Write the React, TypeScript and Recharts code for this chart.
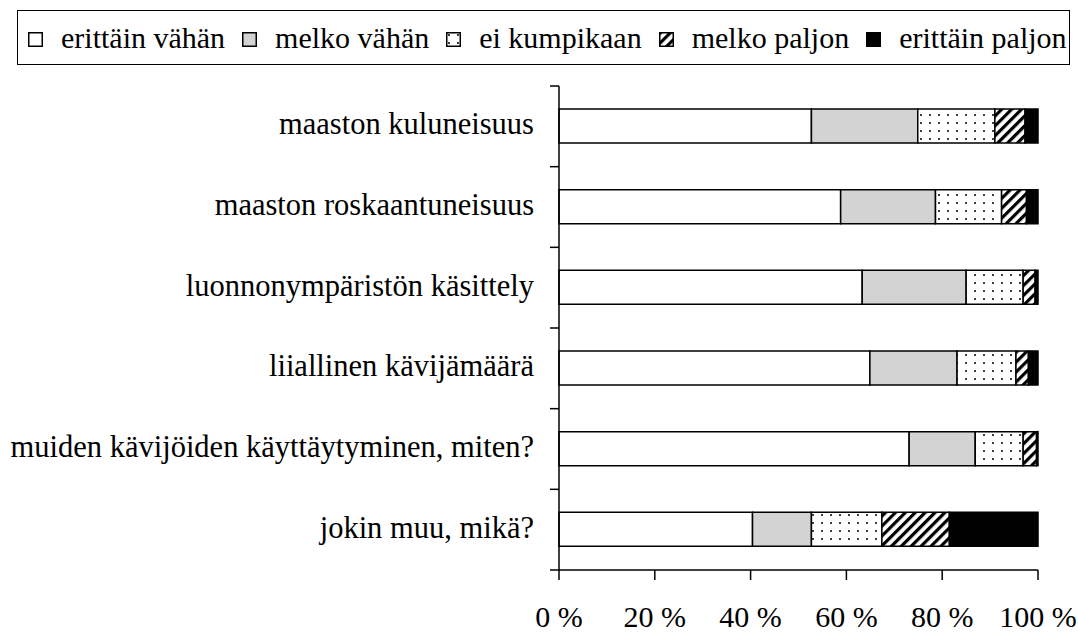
import { BarChart, Bar, XAxis, YAxis } from 'recharts'

const categories = [
  'maaston kuluneisuus',
  'maaston roskaantuneisuus',
  'luonnonympäristön käsittely',
  'liiallinen kävijämäärä',
  'muiden kävijöiden käyttäytyminen, miten?',
  'jokin muu, mikä?'
]

// percentages per category
const erittainVahan = [52.7, 58.8, 63.3, 64.9, 73.1, 40.4]
const melkoVahan = [22.2, 19.8, 21.7, 18.2, 13.8, 12.3]
const eiKumpikaan = [16.1, 13.8, 11.9, 12.3, 10.0, 14.7]
const melkoPaljon = [6.3, 5.2, 2.5, 2.6, 2.8, 14.1]
const erittainPaljon = [2.7, 2.4, 0.6, 2.0, 0.3, 18.5]

const xTicks = [0, 20, 40, 60, 80, 100]

const seriesNames = ['erittäin vähän', 'melko vähän', 'ei kumpikaan', 'melko paljon', 'erittäin paljon']

const font = "'Liberation Serif', 'Times New Roman', serif"

const data = categories.map((name, i) => ({
  name,
  ev: erittainVahan[i],
  mv: melkoVahan[i],
  ek: eiKumpikaan[i],
  mp: melkoPaljon[i],
  ep: erittainPaljon[i]
}))

const fills = ['#ffffff', '#d3d3d3', 'url(#dots)', 'url(#hatch)', '#000000']
const keys = ['ev', 'mv', 'ek', 'mp', 'ep']

const CHART_W = 1078
const CHART_H = 634
const MARGIN_TOP = 86
const X_AXIS_H = 64
const LABEL_GAP = 25
const band = (CHART_H - MARGIN_TOP - X_AXIS_H) / categories.length

// category label plus a tick mark on the band boundary (Excel style)
function CategoryTick(props: any) {
  const { x, y, payload, index } = props
  const axisX = x + LABEL_GAP
  return (
    <g>
      <line x1={axisX - 9} x2={axisX} y1={y - band / 2} y2={y - band / 2} stroke="#000" strokeWidth={1.5} />
      {index === categories.length - 1 && (
        <line x1={axisX - 9} x2={axisX} y1={y + band / 2} y2={y + band / 2} stroke="#000" strokeWidth={1.5} />
      )}
      <text x={x} y={y} dy={8} textAnchor="end" fill="#000" fontSize={30.5} fontFamily={font}>
        {payload.value}
      </text>
    </g>
  )
}

function Patterns() {
  return (
    <svg width={0} height={0} style={{ position: 'absolute' }}>
      <defs>
        <pattern id="dots" width={9} height={8} patternUnits="userSpaceOnUse">
          <rect width={9} height={8} fill="#fff" />
          <circle cx={3} cy={3} r={1} fill="#000" />
        </pattern>
        <pattern id="hatch" width={7} height={7} patternUnits="userSpaceOnUse" patternTransform="rotate(45)">
          <rect width={7} height={7} fill="#fff" />
          <rect width={3.2} height={7} fill="#000" />
        </pattern>
      </defs>
    </svg>
  )
}

function LegendBox() {
  return (
    <div
      style={{
        position: 'absolute',
        left: 17,
        top: 10,
        width: 1053,
        height: 55,
        boxSizing: 'border-box',
        border: '1.5px solid #000',
        display: 'flex',
        alignItems: 'center',
        paddingLeft: 10,
        fontFamily: font,
        fontSize: 30,
        whiteSpace: 'nowrap'
      }}
    >
      {seriesNames.map((name, i) => (
        <div key={name} style={{ display: 'flex', alignItems: 'center', marginRight: 17 }}>
          <svg width={15} height={15} style={{ marginRight: 18, marginTop: 4 }}>
            <rect x={0.75} y={0.75} width={13.5} height={13.5} fill={fills[i]} stroke="#000" strokeWidth={1.5} />
          </svg>
          <span>{name}</span>
        </div>
      ))}
    </div>
  )
}

export default function App() {
  return (
    <div style={{ position: 'absolute', left: 0, top: 0, width: CHART_W, height: CHART_H, background: '#fff', fontFamily: font }}>
      <Patterns />
      <LegendBox />
      <BarChart
        width={CHART_W}
        height={CHART_H}
        data={data}
        layout="vertical"
        margin={{ top: MARGIN_TOP, right: 40, bottom: 0, left: 0 }}
        barSize={34}
      >
        <XAxis
          type="number"
          domain={[0, 100]}
          ticks={xTicks}
          tickFormatter={(v) => `${v} %`}
          height={X_AXIS_H}
          tickSize={10}
          tickMargin={26}
          stroke="#000"
          strokeWidth={1.5}
          tick={{ fill: '#000', fontSize: 30, fontFamily: font }}
        />
        <YAxis
          type="category"
          dataKey="name"
          width={559}
          stroke="#000"
          strokeWidth={1.5}
          tickLine={false}
          tickSize={0}
          tickMargin={LABEL_GAP}
          interval={0}
          tick={<CategoryTick />}
        />
        {keys.map((k, i) => (
          <Bar
            key={k}
            dataKey={k}
            name={seriesNames[i]}
            stackId="a"
            fill={fills[i]}
            stroke="#000"
            strokeWidth={1.5}
            isAnimationActive={false}
          />
        ))}
      </BarChart>
    </div>
  )
}
